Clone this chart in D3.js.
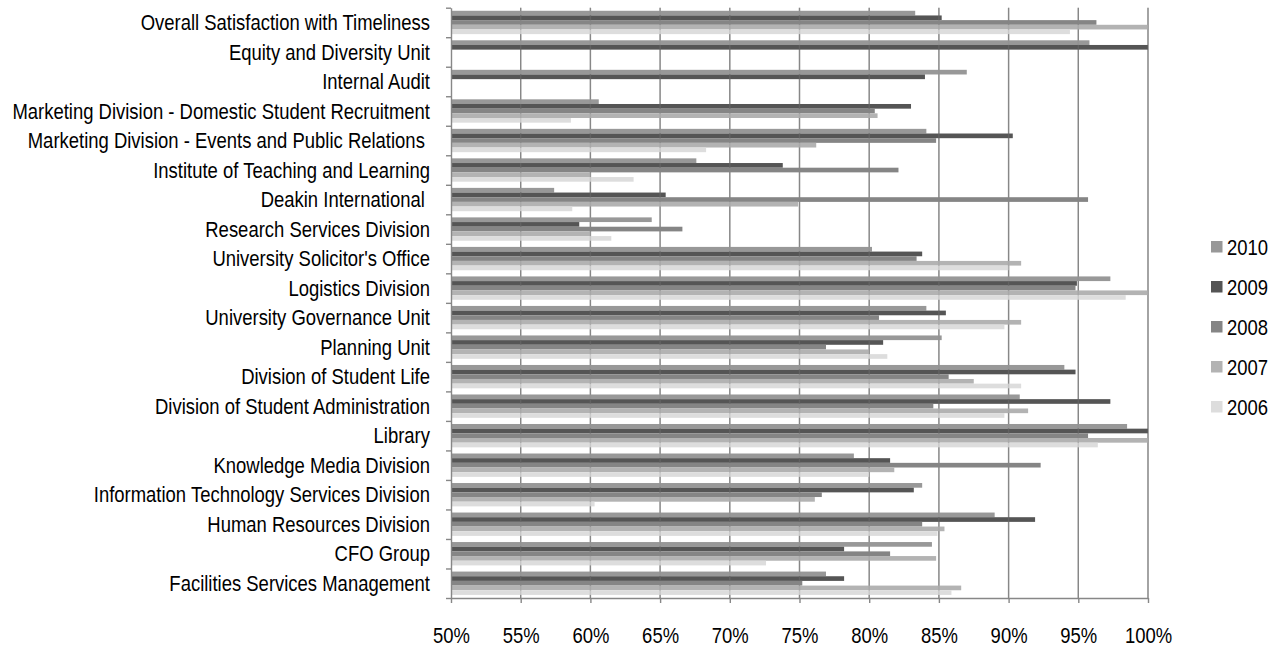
<!DOCTYPE html>
<html>
<head>
<meta charset="utf-8">
<script src="https://cdn.jsdelivr.net/npm/d3@7"></script>
<style>
  body { margin: 0; background: #fff; }
  text { font-family: "Liberation Sans", Arial, sans-serif; fill: #000; }
</style>
</head>
<body>
<svg id="chart"></svg>
<script>
const width = 1282;
const height = 647;
const margin = { left: 451, right: 134, top: 7.7, bottom: 49 };
const narrow = 0.84; // horizontal squeeze to imitate a narrow face

const categories = [
  "Overall Satisfaction with Timeliness",
  "Equity and Diversity Unit",
  "Internal Audit",
  "Marketing Division - Domestic Student Recruitment",
  "Marketing Division - Events and Public Relations ",
  "Institute of Teaching and Learning",
  "Deakin International ",
  "Research Services Division",
  "University Solicitor's Office",
  "Logistics Division",
  "University Governance Unit",
  "Planning Unit",
  "Division of Student Life",
  "Division of Student Administration",
  "Library",
  "Knowledge Media Division",
  "Information Technology Services Division",
  "Human Resources Division",
  "CFO Group",
  "Facilities Services Management"
];

const years = ["2010", "2009", "2008", "2007", "2006"];

// percentages
const v2010 = [83.3, 95.8, 87.0, 60.6, 84.1, 67.6, 57.4, 64.4, 80.2, 97.3, 84.1, 85.2, 94.0, 90.8, 98.5, 78.9, 83.8, 89.0, 84.5, 76.9];
const v2009 = [85.2, 100, 84.0, 83.0, 90.3, 73.8, 65.4, 59.2, 83.8, 94.9, 85.5, 81.0, 94.8, 97.3, 100, 81.5, 83.2, 91.9, 78.2, 78.2];
const v2008 = [96.3, null, null, 80.4, 84.8, 82.1, 95.7, 66.6, 83.4, 94.8, 80.7, 76.9, 85.7, 84.6, 95.7, 92.3, 76.6, 83.8, 81.5, 75.2];
const v2007 = [100, null, null, 80.6, 76.2, 60.0, 74.9, 60.0, 90.9, 100, 90.9, 80.0, 87.5, 91.4, 100, 81.8, 76.1, 85.4, 84.8, 86.6];
const v2006 = [94.4, null, null, 58.6, 68.3, 63.1, 58.7, 61.5, 90.0, 98.4, 89.7, 81.3, 90.9, 89.7, 96.4, 80.0, 60.3, 84.9, 72.6, 85.9];

const xTicks = [50, 55, 60, 65, 70, 75, 80, 85, 90, 95, 100];

const seriesValues = { "2010": v2010, "2009": v2009, "2008": v2008, "2007": v2007, "2006": v2006 };
const colors = { "2010": "#989898", "2009": "#555555", "2008": "#858585", "2007": "#b3b3b3", "2006": "#dddddd" };

const svg = d3.select("#chart").attr("width", width).attr("height", height);

const plotBottom = height - margin.bottom;
const xScale = d3.scaleLinear().domain([50, 100]).range([margin.left, width - margin.right]);
const yScale = d3.scaleBand().domain(categories).range([margin.top, plotBottom]).padding(0);
const innerScale = d3.scaleBand().domain(years).range([0, yScale.bandwidth()]).paddingOuter(0.66).paddingInner(0);

// gridlines
svg.append("g")
  .selectAll("line")
  .data(xTicks.slice(1))
  .join("line")
  .attr("x1", d => xScale(d))
  .attr("x2", d => xScale(d))
  .attr("y1", margin.top)
  .attr("y2", plotBottom)
  .attr("stroke", "#878787")
  .attr("stroke-width", 1.4);

// bars
const rows = [];
categories.forEach(function (c, i) {
  years.forEach(function (y) {
    const v = seriesValues[y][i];
    if (v != null) rows.push({ cat: c, year: y, value: v });
  });
});

svg.append("g")
  .selectAll("rect")
  .data(rows)
  .join("rect")
  .attr("x", xScale(50))
  .attr("y", d => yScale(d.cat) + innerScale(d.year))
  .attr("width", d => xScale(d.value) - xScale(50))
  .attr("height", innerScale.bandwidth())
  .attr("fill", d => colors[d.year]);

// faint gridlines showing through the bars
svg.append("g")
  .selectAll("line")
  .data(xTicks.slice(1))
  .join("line")
  .attr("x1", d => xScale(d))
  .attr("x2", d => xScale(d))
  .attr("y1", margin.top)
  .attr("y2", plotBottom)
  .attr("stroke", "#878787")
  .attr("stroke-opacity", 0.25)
  .attr("stroke-width", 1.4);

// left axis (ticks at category boundaries)
const boundary = d3.scaleLinear().domain([0, categories.length]).range([margin.top, plotBottom]);
const leftAxis = svg.append("g")
  .attr("transform", "translate(" + margin.left + ",0)")
  .call(d3.axisLeft(boundary).tickValues(d3.range(categories.length + 1)).tickFormat("").tickSize(5).tickSizeOuter(0));
leftAxis.selectAll("path, line").attr("stroke", "#878787").attr("stroke-width", 1.4);

svg.append("g")
  .selectAll("text")
  .data(categories)
  .join("text")
  .attr("transform", d => "translate(430," + (yScale(d) + yScale.bandwidth() / 2) + ") scale(" + narrow + ",1)")
  .attr("dy", "0.35em")
  .attr("text-anchor", "end")
  .style("white-space", "pre")
  .style("font-size", "22px")
  .text(d => d);

// bottom axis
const bottomAxis = svg.append("g")
  .attr("transform", "translate(0," + plotBottom + ")")
  .call(d3.axisBottom(xScale).tickValues(xTicks).tickSize(5).tickSizeOuter(0).tickPadding(24)
    .tickFormat(d => d + "%"));
bottomAxis.selectAll("path, line").attr("stroke", "#878787").attr("stroke-width", 1.4);
bottomAxis.selectAll("text")
  .style("font-size", "22px")
  .attr("fill", "#000")
  .attr("transform", "scale(" + narrow + ",1)");

// legend
const legend = svg.append("g")
  .selectAll("g")
  .data(years)
  .join("g")
  .attr("transform", (d, i) => "translate(1211," + (247 + i * 40) + ")");
legend.append("rect")
  .attr("x", 0).attr("y", -6).attr("width", 11.5).attr("height", 11.5)
  .attr("fill", d => colors[d]);
legend.append("text")
  .attr("transform", "translate(16,0) scale(" + narrow + ",1)")
  .attr("dy", "0.35em")
  .style("font-size", "22px")
  .text(d => d);
</script>
</body>
</html>
